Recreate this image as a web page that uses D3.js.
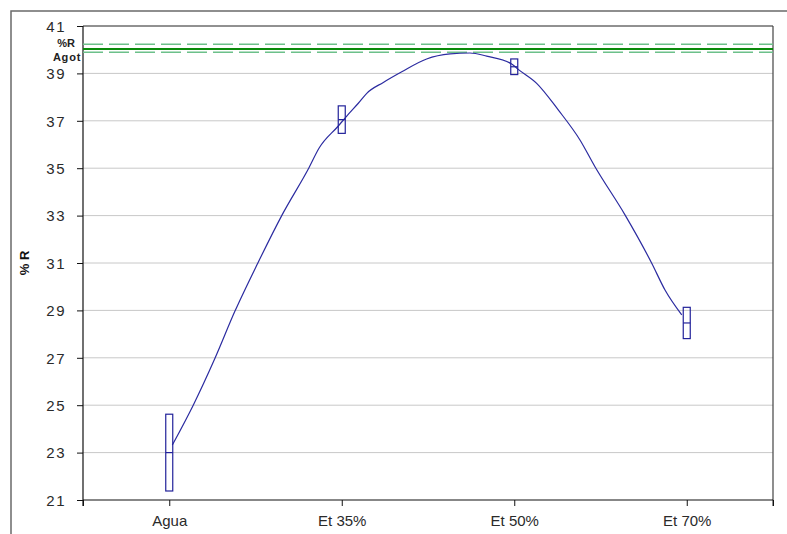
<!DOCTYPE html>
<html>
<head>
<meta charset="utf-8">
<script src="https://cdn.jsdelivr.net/npm/d3@7"></script>
<style>
  html, body { margin: 0; padding: 0; background: #ffffff; }
  svg { display: block; font-family: Arial, "Liberation Sans", sans-serif; }
</style>
</head>
<body>
<svg id="chart" width="787" height="534"></svg>
<script>
// Treatments along the x axis
const categories = ["Agua", "Et 35%", "Et 50%", "Et 70%"];
// Mean %R per treatment and the half-width of its interval
const means = [23.0, 37.05, 39.28, 28.47];
const halfRange = [1.62, 0.58, 0.33, 0.66];
// Fitted response curve: position in category units and %R
const curveX = [0.018, 0.139, 0.265, 0.381, 0.513, 0.652, 0.810, 0.868, 0.980,
                1.029, 1.096, 1.145, 1.241, 1.348, 1.492, 1.628, 1.743, 1.840, 1.985,
                2.023, 2.130, 2.255, 2.381, 2.468, 2.642, 2.797, 2.874, 2.971];
const curveY = [23.32, 25.0, 26.98, 28.97, 30.99, 33.0, 35.02, 35.84, 36.78,
                37.2, 37.74, 38.16, 38.62, 39.07, 39.61, 39.82, 39.86, 39.73, 39.4,
                39.17, 38.58, 37.46, 36.19, 35.06, 33.03, 30.99, 29.86, 28.81];
// %R Agot reference level and its band
const agotValue = 40.03;
const agotBand = [40.23, 39.89];
// Y axis ticks
const yTicks = [21, 23, 25, 27, 29, 31, 33, 35, 37, 39, 41];

const svg = d3.select("#chart");
const W = 787, H = 534;
const plotL = 83, plotR = 773, plotT = 26, plotB = 500;

// Outer chart frame
svg.append("rect").attr("x", 11).attr("y", 11).attr("width", W).attr("height", H)
  .attr("fill", "#ffffff").attr("stroke", "#6a6a6a").attr("stroke-width", 1.5);

const x = d3.scaleLinear().domain([-0.5, 3.5]).range([plotL, plotR]);
const y = d3.scaleLinear().domain([21, 41]).range([plotB, plotT]);

// Horizontal gridlines
svg.append("g").selectAll("line").data(yTicks.slice(1, -1)).join("line")
  .attr("x1", plotL).attr("x2", plotR)
  .attr("y1", d => y(d)).attr("y2", d => y(d))
  .attr("stroke", "#c8c8c8").attr("stroke-width", 1);

// Plot frame (top and right)
svg.append("line").attr("x1", plotL).attr("x2", plotR).attr("y1", plotT).attr("y2", plotT)
  .attr("stroke", "#222").attr("stroke-width", 1);
svg.append("line").attr("x1", plotR).attr("x2", plotR).attr("y1", plotT).attr("y2", plotB + 6)
  .attr("stroke", "#444").attr("stroke-width", 1.2);

// Y axis
const yAxis = svg.append("g").attr("transform", `translate(${plotL},0)`)
  .call(d3.axisLeft(y).tickValues(yTicks).tickSize(6).tickPadding(11).tickFormat(d3.format("d")));
yAxis.select(".domain").attr("stroke", "#111").attr("stroke-width", 1.2)
  .attr("d", `M0,${plotT}V${plotB + 6}`);
yAxis.selectAll(".tick line").attr("stroke", "#111");
yAxis.selectAll(".tick text").attr("font-size", 15).attr("fill", "#2a2a2a")
  .attr("letter-spacing", "1.5px").attr("dy", "0.35em");

// X axis with ticks at category centres and plot edges
const xAxis = svg.append("g").attr("transform", `translate(0,${plotB})`)
  .call(d3.axisBottom(x).tickValues([-0.5, 0, 1, 2, 3, 3.5]).tickSize(6).tickPadding(9)
    .tickFormat(d => Number.isInteger(d) ? categories[d] : ""));
xAxis.select(".domain").attr("stroke", "#111").attr("stroke-width", 1.2)
  .attr("d", `M${plotL},0H${plotR}`);
xAxis.selectAll(".tick line").attr("stroke", "#111");
xAxis.selectAll(".tick text").attr("font-size", 15).attr("fill", "#2a2a2a");

// Y axis title
svg.append("text").attr("transform", `translate(29,${(plotT + plotB) / 2}) rotate(-90)`)
  .attr("text-anchor", "middle").attr("font-size", 13).attr("font-weight", "bold")
  .attr("fill", "#111").text("% R");

// Agot reference band (dashed) and level (solid)
svg.append("g").selectAll("line").data(agotBand).join("line")
  .attr("x1", plotL).attr("x2", plotR)
  .attr("y1", d => y(d)).attr("y2", d => y(d))
  .attr("stroke", "#6cc08a").attr("stroke-width", 1.6)
  .attr("stroke-dasharray", "20,6");
svg.append("line").attr("x1", plotL).attr("x2", plotR)
  .attr("y1", y(agotValue)).attr("y2", y(agotValue))
  .attr("stroke", "#0a8a0a").attr("stroke-width", 2.2);

// Agot label
const lab = svg.append("text").attr("text-anchor", "middle").attr("font-size", 11)
  .attr("font-weight", "bold").attr("fill", "#222");
lab.append("tspan").attr("x", 66).attr("y", 47).text("%R");
lab.append("tspan").attr("x", 67).attr("y", 61).attr("letter-spacing", "0.8px").text("Agot");

// Fitted curve
const pts = curveX.map((cx, i) => [cx, curveY[i]]);
svg.append("path").datum(pts)
  .attr("d", d3.line().x(d => x(d[0])).y(d => y(d[1])).curve(d3.curveMonotoneX))
  .attr("fill", "none").attr("stroke", "#2b2ba0").attr("stroke-width", 1.2);

// Interval boxes with mean line
const boxW = 7;
const boxes = svg.append("g").selectAll("g").data(means).join("g");
boxes.append("rect")
  .attr("x", (d, i) => x(i) - boxW / 2)
  .attr("y", (d, i) => y(d + halfRange[i]))
  .attr("width", boxW)
  .attr("height", (d, i) => y(d - halfRange[i]) - y(d + halfRange[i]))
  .attr("fill", "none").attr("stroke", "#22229a").attr("stroke-width", 1.2);
boxes.append("line")
  .attr("x1", (d, i) => x(i) - boxW / 2).attr("x2", (d, i) => x(i) + boxW / 2)
  .attr("y1", d => y(d)).attr("y2", d => y(d))
  .attr("stroke", "#22229a").attr("stroke-width", 1.2);
</script>
</body>
</html>
